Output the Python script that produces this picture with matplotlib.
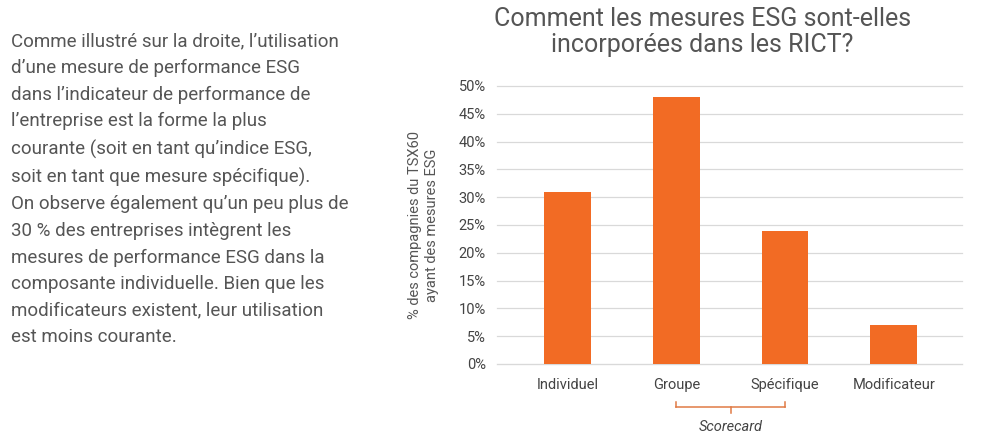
import matplotlib.pyplot as plt
import matplotlib.transforms as mtransforms
from matplotlib.ticker import PercentFormatter

# données
categories = ['Individuel', 'Groupe', 'Spécifique', 'Modificateur']
valeurs = [0.31, 0.48, 0.24, 0.07]
yticks = [0, 0.05, 0.10, 0.15, 0.20, 0.25, 0.30, 0.35, 0.40, 0.45, 0.50]

texte = ("Comme illustré sur la droite, l’utilisation\n"
         "d’une mesure de performance ESG\n"
         "dans l’indicateur de performance de\n"
         "l’entreprise est la forme la plus\n"
         "courante (soit en tant qu’indice ESG,\n"
         "soit en tant que mesure spécifique).\n"
         "On observe également qu’un peu plus de\n"
         "30 % des entreprises intègrent les\n"
         "mesures de performance ESG dans la\n"
         "composante individuelle. Bien que les\n"
         "modificateurs existent, leur utilisation\n"
         "est moins courante.")

plt.rcParams['font.family'] = ['Roboto', 'DejaVu Sans']
orange = '#f26b24'
gris = '#555555'

fig = plt.figure(figsize=(9.88, 4.47), dpi=100)
ax = fig.add_axes([0.503, 0.1857, 0.471, 0.622])

x = range(len(categories))
ax.bar(x, valeurs, width=0.43, color=orange, zorder=3)
ax.set_xlim(-0.65, 3.63)
ax.set_ylim(0, 0.5)
ax.set_yticks(yticks)
ax.yaxis.set_major_formatter(PercentFormatter(1.0, decimals=0))
ax.set_xticks(list(x))
ax.set_xticklabels(categories)
ax.grid(axis='y', color='#d9d9d9', linewidth=0.9, zorder=0)
for s in ['top', 'right', 'left']:
    ax.spines[s].set_visible(False)
ax.spines['bottom'].set_color('#d9d9d9')
ax.tick_params(axis='both', length=0, labelsize=10.5, colors='#444444')
ax.tick_params(axis='x', pad=10)
ax.tick_params(axis='y', pad=8)
for gl in ax.get_ygridlines():
    gl.set_clip_on(False)

ax.set_ylabel('% des compagnies du TSX60\nayant des mesures ESG',
              fontsize=10.5, color=gris, labelpad=14, linespacing=1.25)

# accolade "Scorecard" sous Groupe et Spécifique
trans = mtransforms.blended_transform_factory(ax.transData, ax.transAxes)
lc = '#e07a45'
ax.plot([1, 2], [-0.155, -0.155], color=lc, lw=1.1, transform=trans, clip_on=False)
ax.plot([1, 1], [-0.137, -0.155], color=lc, lw=1.1, transform=trans, clip_on=False)
ax.plot([2, 2], [-0.137, -0.155], color=lc, lw=1.1, transform=trans, clip_on=False)
ax.plot([1.5, 1.5], [-0.155, -0.176], color=lc, lw=1.1, transform=trans, clip_on=False)
ax.text(1.5, -0.225, 'Scorecard', transform=trans, ha='center', va='center',
        fontsize=10.5, style='italic', color='#444444')

fig.text(0.711, 0.928, 'Comment les mesures ESG sont-elles\nincorporées dans les RICT?',
         ha='center', va='center', fontsize=18, color=gris, linespacing=1.1)

fig.text(0.011, 0.928, texte, ha='left', va='top', fontsize=13.5,
         color=gris, linespacing=1.61)

fig.savefig('out.png', dpi=100)
